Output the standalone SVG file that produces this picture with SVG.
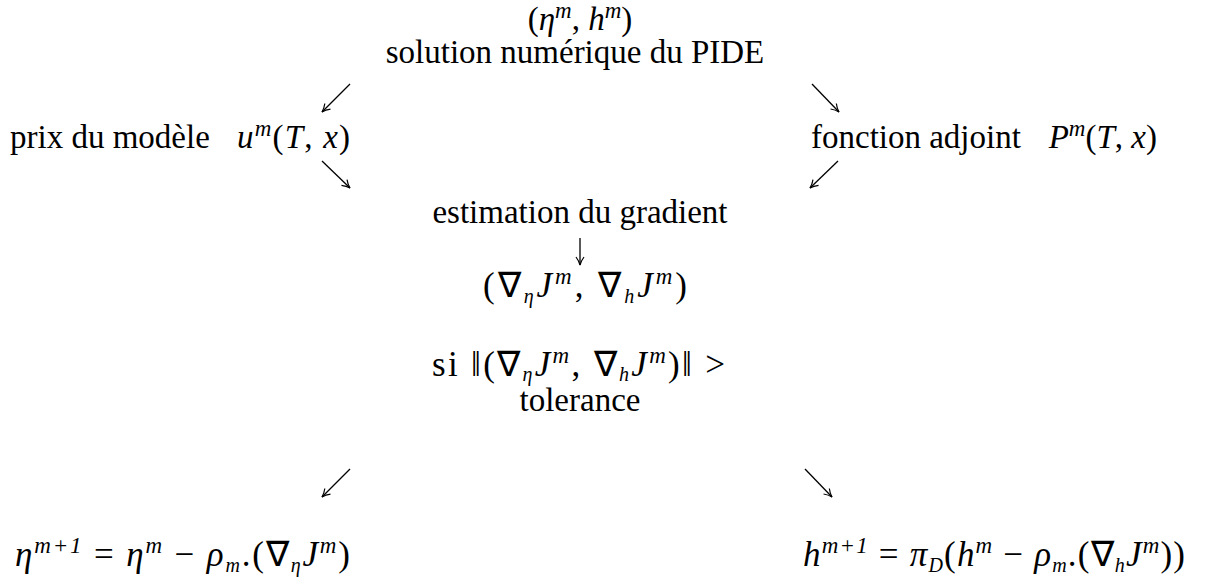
<svg xmlns="http://www.w3.org/2000/svg" width="1227" height="583" viewBox="0 0 1227 583">
<defs>
<marker id="ah" viewBox="0 0 10 10" refX="9" refY="5" markerWidth="10" markerHeight="10" markerUnits="userSpaceOnUse" orient="auto">
<path d="M1,1 Q5,4 9,5 Q5,6 1,9" fill="none" stroke="#000" stroke-width="1.2"/>
</marker>
</defs>
<style>
text{font-family:"Liberation Serif",serif;font-size:33px;fill:#000}
text.m{font-size:35px}
.i{font-style:italic}
.s{font-size:23px}
.b{font-size:20px}
.c{text-anchor:middle}
.e{text-anchor:end}
line{stroke:#000;stroke-width:1.3;marker-end:url(#ah)}
</style>
<rect width="1227" height="583" fill="#fff"/>
<g id="n_top">
<text class="c" x="580" y="30">(<tspan class="i">η</tspan><tspan class="i s" dy="-12">m</tspan><tspan dy="12">, </tspan><tspan class="i">h</tspan><tspan class="i s" dy="-12">m</tspan><tspan dy="12">)</tspan></text>
<text class="c" x="575" y="63">solution numérique du PIDE</text>
</g>
<g id="n_prix">
<text x="10" y="148">prix du modèle</text>
<text x="237" y="148" textLength="113" lengthAdjust="spacing"><tspan class="i">u</tspan><tspan class="i s" dy="-12">m</tspan><tspan dy="12">(</tspan><tspan class="i">T</tspan>, <tspan class="i">x</tspan>)</text>
</g>
<g id="n_adj">
<text x="811" y="148">fonction adjoint</text>
<text class="e" x="1157" y="148"><tspan class="i">P</tspan><tspan class="i s" dy="-12">m</tspan><tspan dy="12">(</tspan><tspan class="i">T</tspan>, <tspan class="i">x</tspan>)</text>
</g>
<g id="n_grad">
<text class="c" x="580" y="223">estimation du gradient</text>
<text class="m" x="483" y="297" textLength="204" lengthAdjust="spacing">(∇<tspan class="i b" dy="6">η</tspan><tspan class="i" dy="-6">J</tspan><tspan class="i s" dy="-13">m</tspan><tspan dy="13">, ∇</tspan><tspan class="i b" dy="6">h</tspan><tspan class="i" dy="-6">J</tspan><tspan class="i s" dy="-13">m</tspan><tspan dy="13">)</tspan></text>
</g>
<g id="n_cond">
<text class="m" x="432" y="376" textLength="293" lengthAdjust="spacing">si ‖(∇<tspan class="i b" dy="5">η</tspan><tspan class="i" dy="-5">J</tspan><tspan class="i s" dy="-13">m</tspan><tspan dy="13">, ∇</tspan><tspan class="i b" dy="5">h</tspan><tspan class="i" dy="-5">J</tspan><tspan class="i s" dy="-13">m</tspan><tspan dy="13">)‖ &gt;</tspan></text>
<text class="c" x="580" y="411">tolerance</text>
</g>
<g id="n_eta">
<text class="m" x="15" y="566" textLength="335" lengthAdjust="spacing"><tspan class="i">η</tspan><tspan class="i s" dy="-13">m+1</tspan><tspan dy="13"> = </tspan><tspan class="i">η</tspan><tspan class="i s" dy="-13">m</tspan><tspan dy="13"> − </tspan><tspan class="i">ρ</tspan><tspan class="i b" dy="6">m</tspan><tspan dy="-6">.(∇</tspan><tspan class="i b" dy="6">η</tspan><tspan class="i" dy="-6">J</tspan><tspan class="i s" dy="-13">m</tspan><tspan dy="13">)</tspan></text>
</g>
<g id="n_h">
<text class="m" x="803" y="566" textLength="382" lengthAdjust="spacing"><tspan class="i">h</tspan><tspan class="i s" dy="-13">m+1</tspan><tspan dy="13"> = </tspan><tspan class="i">π</tspan><tspan class="i b" dy="6">D</tspan><tspan dy="-6">(</tspan><tspan class="i">h</tspan><tspan class="i s" dy="-13">m</tspan><tspan dy="13"> − </tspan><tspan class="i">ρ</tspan><tspan class="i b" dy="6">m</tspan><tspan dy="-6">.(∇</tspan><tspan class="i b" dy="6">h</tspan><tspan class="i" dy="-6">J</tspan><tspan class="i s" dy="-13">m</tspan><tspan dy="13">))</tspan></text>
</g>
<g id="connectors">
<line x1="350" y1="84" x2="322" y2="112"/>
<line x1="812" y1="84" x2="839" y2="112"/>
<line x1="322" y1="161" x2="350" y2="188"/>
<line x1="838" y1="161" x2="810" y2="188"/>
<line x1="580" y1="238" x2="580" y2="265"/>
<line x1="350" y1="469" x2="322" y2="497"/>
<line x1="805" y1="469" x2="832" y2="497"/>
</g>
</svg>
